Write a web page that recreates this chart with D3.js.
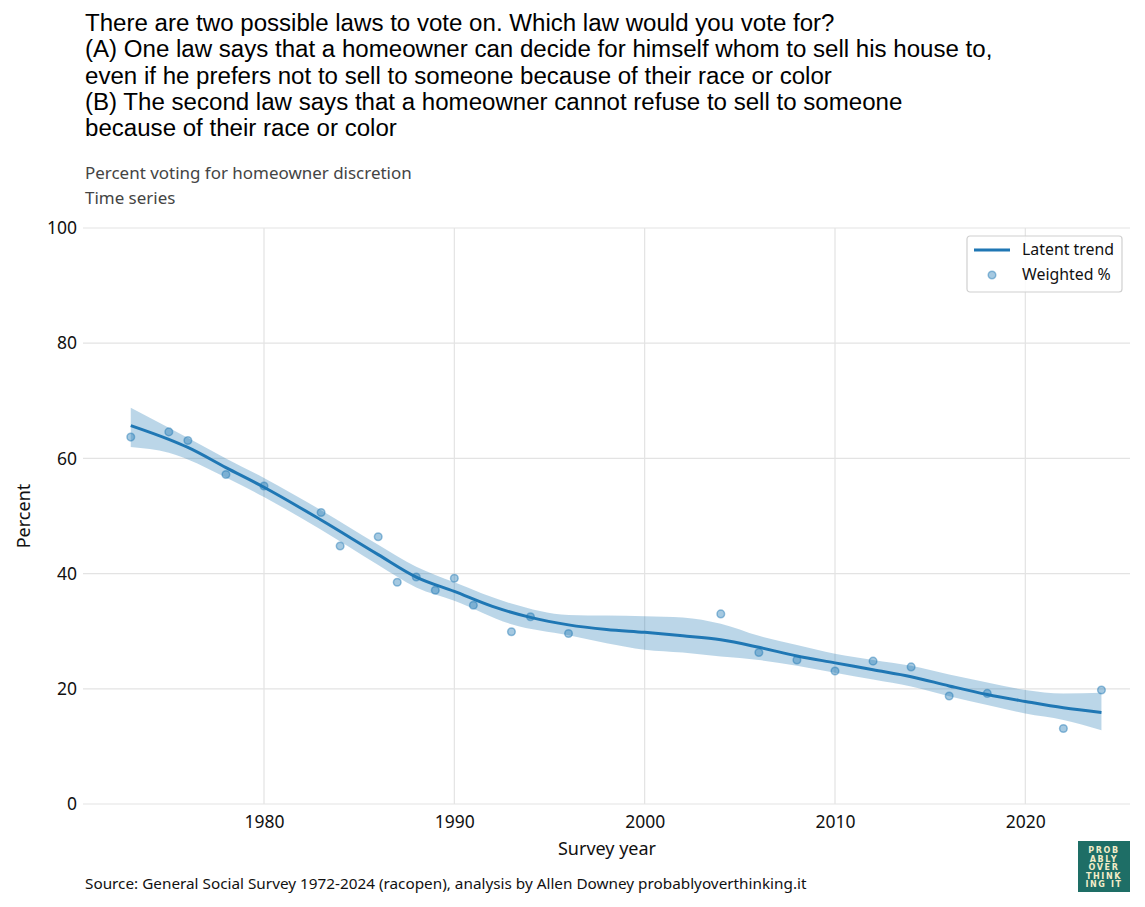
<!DOCTYPE html>
<html>
<head>
<meta charset="utf-8">
<script src="https://cdn.jsdelivr.net/npm/d3@7"></script>
<style>
  body { margin: 0; background: #fff; }
  svg { display: block; font-family: "Noto Sans", "Open Sans", sans-serif; }
</style>
</head>
<body>
<svg id="chart" width="1145" height="907"></svg>
<script>
// ---- data ----
const years = [1973,1975,1976,1978,1980,1983,1984,1986,1987,1988,1989,1990,1991,1993,1994,1996,2004,2006,2008,2010,2012,2014,2016,2018,2022,2024];
const weightedPct = [63.7,64.6,63.1,57.2,55.2,50.6,44.8,46.4,38.5,39.4,37.1,39.2,34.5,29.9,32.5,29.6,33.0,26.3,25.0,23.1,24.8,23.8,18.75,19.2,13.1,19.8];

const trendYears = [1973,1975,1976,1978,1980,1983,1986,1988,1990,1992,1994,1996,1998,2000,2002,2004,2006,2008,2010,2012,2014,2016,2018,2020,2022,2024];
const trendValues = [65.7,63.3,61.9,58.4,55.0,49.3,43.3,39.4,36.9,34.3,32.4,31.1,30.3,29.8,29.2,28.5,27.2,25.7,24.5,23.3,22.1,20.5,19.0,17.8,16.7,15.9];

const bandYears = [1973,1975,1978,1980,1983,1986,1988,1990,1993,1996,2000,2002,2004,2006,2008,2010,2012,2014,2016,2018,2020,2022,2024];
const bandUpper = [68.8,65.3,60.0,56.6,51.0,45.0,41.2,38.5,34.8,32.8,32.6,32.4,31.3,29.2,27.6,26.1,25.0,24.0,22.5,21.1,19.8,19.2,19.3];
const bandLower = [62.0,61.0,56.7,53.3,47.6,41.5,37.6,35.3,31.2,29.3,26.8,26.3,25.6,25.0,24.0,22.8,21.6,20.4,18.7,17.2,15.7,14.6,12.8];

const xTicks = [1980,1990,2000,2010,2020];
const yTicks = [0,20,40,60,80,100];

const titleLines = [
  "There are two possible laws to vote on. Which law would you vote for?",
  "(A) One law says that a homeowner can decide for himself whom to sell his house to,",
  "even if he prefers not to sell to someone because of their race or color",
  "(B) The second law says that a homeowner cannot refuse to sell to someone",
  "because of their race or color"
];
const subtitleLines = ["Percent voting for homeowner discretion", "Time series"];
const sourceText = "Source: General Social Survey 1972-2024 (racopen), analysis by Allen Downey probablyoverthinking.it";
const legendLabels = ["Latent trend", "Weighted %"];
const logoLines = ["PROB", "ABLY", "OVER", "THINK", "ING IT"];

// ---- layout ----
const color = "#1f77b4";
const svg = d3.select("#chart");
const plot = {left: 83, right: 1130, top: 228, bottom: 804};

const x = d3.scaleLinear().domain([1970.49, 2025.5]).range([plot.left, plot.right]);
const y = d3.scaleLinear().domain([0, 100]).range([plot.bottom, plot.top]);

// helper: fit text to a target width by adjusting font size
function fitWidth(sel, target) {
  sel.each(function() {
    const w = this.getComputedTextLength();
    const fs = parseFloat(this.getAttribute("font-size"));
    this.setAttribute("font-size", (fs * target / w).toFixed(2));
  });
}

// gridlines
svg.append("g").selectAll("line").data(xTicks).join("line")
  .attr("x1", d => x(d)).attr("x2", d => x(d))
  .attr("y1", plot.top).attr("y2", plot.bottom)
  .attr("stroke", "#e3e3e3").attr("stroke-width", 1.2);
svg.append("g").selectAll("line").data(yTicks).join("line")
  .attr("x1", plot.left).attr("x2", plot.right)
  .attr("y1", d => y(d)).attr("y2", d => y(d))
  .attr("stroke", "#e3e3e3").attr("stroke-width", 1.2);

// axes (labels only)
const xAxis = svg.append("g").attr("transform", `translate(0,${plot.bottom})`)
  .call(d3.axisBottom(x).tickValues(xTicks).tickFormat(d3.format("d")).tickSize(0).tickPadding(12));
const yAxis = svg.append("g").attr("transform", `translate(${plot.left},0)`)
  .call(d3.axisLeft(y).tickValues(yTicks).tickSize(0).tickPadding(6));
[xAxis, yAxis].forEach(a => {
  a.select(".domain").remove();
  a.selectAll("text").attr("font-size", 17.5).attr("fill", "#111").attr("font-family", "Noto Sans, sans-serif");
});

// band
const bandData = bandYears.map((yr, i) => ({yr, hi: bandUpper[i], lo: bandLower[i]}));
svg.append("path").datum(bandData)
  .attr("d", d3.area().curve(d3.curveMonotoneX).x(d => x(d.yr)).y0(d => y(d.lo)).y1(d => y(d.hi)))
  .attr("fill", color).attr("fill-opacity", 0.3);

// trend line
const trendData = trendYears.map((yr, i) => ({yr, v: trendValues[i]}));
svg.append("path").datum(trendData)
  .attr("d", d3.line().curve(d3.curveMonotoneX).x(d => x(d.yr)).y(d => y(d.v)))
  .attr("fill", "none").attr("stroke", color).attr("stroke-width", 3);

// points
svg.append("g").selectAll("circle").data(years.map((yr, i) => ({yr, v: weightedPct[i]}))).join("circle")
  .attr("cx", d => x(d.yr)).attr("cy", d => y(d.v)).attr("r", 3.8)
  .attr("fill", color).attr("fill-opacity", 0.4)
  .attr("stroke", color).attr("stroke-opacity", 0.45).attr("stroke-width", 1.5);

// legend
const lg = svg.append("g").attr("transform", "translate(967,236)");
lg.append("rect").attr("width", 155).attr("height", 56).attr("rx", 3)
  .attr("fill", "#fff").attr("fill-opacity", 0.85).attr("stroke", "#d0d0d0").attr("stroke-width", 1.2);
lg.append("line").attr("x1", 7).attr("x2", 43).attr("y1", 14).attr("y2", 14)
  .attr("stroke", color).attr("stroke-width", 3);
lg.append("circle").attr("cx", 25).attr("cy", 39).attr("r", 3.8)
  .attr("fill", color).attr("fill-opacity", 0.4).attr("stroke", color).attr("stroke-opacity", 0.45).attr("stroke-width", 1.5);
const lgText = lg.selectAll("text").data(legendLabels).join("text")
  .attr("x", 55).attr("y", (d, i) => 19 + i * 25)
  .attr("font-size", 15).attr("fill", "#111").text(d => d);
fitWidth(lgText.filter((d, i) => i === 0), 92);
lgText.filter((d, i) => i === 1).attr("font-size", lgText.filter((d, i) => i === 0).attr("font-size"));

// title (font with compact line metrics so stacked lines do not collide)
const titleText = svg.append("g").selectAll("text").data(titleLines).join("text")
  .attr("x", 85).attr("y", (d, i) => 31 + i * 26.3)
  .attr("font-family", "Liberation Sans, Arial, sans-serif")
  .attr("font-size", 22).attr("fill", "#000").text(d => d);
fitWidth(titleText.filter((d, i) => i === 1), 908);
titleText.attr("font-size", titleText.filter((d, i) => i === 1).attr("font-size"));

const subText = svg.append("g").selectAll("text").data(subtitleLines).join("text")
  .attr("x", 85).attr("y", (d, i) => 179 + i * 25)
  .attr("font-size", 16.5).attr("fill", "#444").text(d => d);
fitWidth(subText.filter((d, i) => i === 0), 327);
subText.attr("font-size", subText.filter((d, i) => i === 0).attr("font-size"));

// axis titles
svg.append("text").attr("x", 607).attr("y", 855).attr("text-anchor", "middle")
  .attr("font-size", 18).attr("fill", "#111").text("Survey year");
svg.append("text").attr("transform", `translate(30,${y(50)}) rotate(-90)`).attr("text-anchor", "middle")
  .attr("font-size", 18).attr("fill", "#111").text("Percent");

// source
const src = svg.append("text").attr("x", 85).attr("y", 889).attr("font-size", 15).attr("fill", "#111").text(sourceText);
fitWidth(src, 722);

// logo
const logo = svg.append("g").attr("transform", "translate(1078,841)");
logo.append("rect").attr("width", 52).attr("height", 51).attr("fill", "#1e6e66");
logo.selectAll("text").data(logoLines).join("text")
  .attr("x", 26).attr("y", (d, i) => 12 + i * 8.6).attr("text-anchor", "middle")
  .attr("font-size", 8).attr("font-weight", 700).attr("letter-spacing", 1.6)
  .attr("fill", "#f3ecc8").attr("font-family", "DejaVu Sans, sans-serif").text(d => d);
</script>
</body>
</html>
